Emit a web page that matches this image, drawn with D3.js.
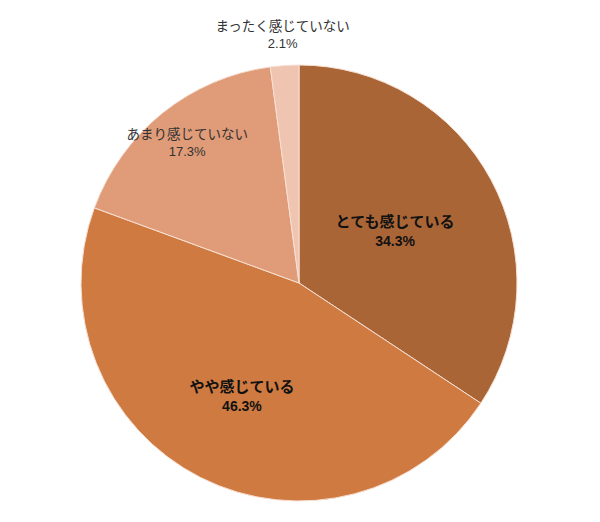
<!DOCTYPE html>
<html>
<head>
<meta charset="utf-8">
<script src="https://cdn.jsdelivr.net/npm/d3@7.9.0/dist/d3.min.js"></script>
<style>
  html, body { margin: 0; padding: 0; background: #fff; }
  svg text { font-family: "Liberation Sans", "Noto Sans CJK JP", sans-serif; }
</style>
</head>
<body>
<svg id="pie" width="600" height="522"></svg>
<script>
// data
const categories = ["とても感じている", "やや感じている", "あまり感じていない", "まったく感じていない"];
const values = [34.3, 46.3, 17.3, 2.1];
const colors = ["#aa6536", "#cf7a40", "#e09b78", "#efc4b1"];

// label placement (fraction of radius) and style per slice
const labelRadius = [0.50, 0.58, 0.82, 1.14];
const labelBold = [true, true, false, false];

const width = 600, height = 522;
const cx = 299, cy = 283, radius = 218;

const svg = d3.select("#pie");
const g = svg.append("g").attr("transform", `translate(${cx},${cy})`);

const data = categories.map((c, i) => ({ label: c, value: values[i], i }));

const pie = d3.pie().sort(null).value((d) => d.value);
const arc = d3.arc().innerRadius(0).outerRadius(radius);
const arcs = pie(data);

// slices
g.selectAll("path")
  .data(arcs)
  .join("path")
  .attr("d", arc)
  .attr("fill", (d) => colors[d.data.i])
  .attr("stroke", "#f7e0d3")
  .attr("stroke-width", 1);

// labels
const labels = g.selectAll("g.lbl")
  .data(arcs)
  .join("g")
  .attr("class", "lbl")
  .attr("transform", (d) => {
    const r = radius * labelRadius[d.data.i];
    const a = (d.startAngle + d.endAngle) / 2;
    return `translate(${Math.sin(a) * r},${-Math.cos(a) * r})`;
  });

labels.append("text")
  .attr("text-anchor", "middle")
  .attr("y", -4)
  .attr("font-size", (d) => labelBold[d.data.i] ? 15 : 13.5)
  .attr("font-weight", (d) => labelBold[d.data.i] ? "bold" : "normal")
  .attr("fill", (d) => labelBold[d.data.i] ? "#111" : "#333")
  .text((d) => d.data.label);

labels.append("text")
  .attr("text-anchor", "middle")
  .attr("y", (d) => labelBold[d.data.i] ? 15 : 13)
  .attr("font-size", (d) => labelBold[d.data.i] ? 14 : 13)
  .attr("font-weight", (d) => labelBold[d.data.i] ? "bold" : "normal")
  .attr("fill", (d) => labelBold[d.data.i] ? "#111" : "#333")
  .text((d) => d3.format(".1f")(d.data.value) + "%");
</script>
</body>
</html>
